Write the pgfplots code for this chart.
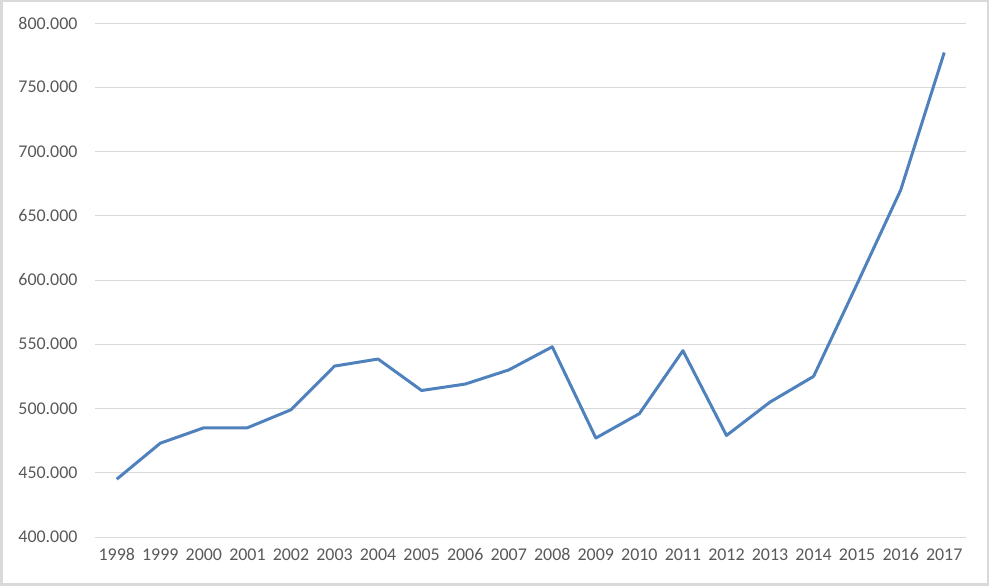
\documentclass[border=0pt]{standalone}
\usepackage{pgfplots}
\pgfplotsset{compat=1.18}
\usepackage{fontspec}
\setmainfont{Carlito}
\definecolor{txt}{RGB}{89,89,89}
\definecolor{grid}{RGB}{217,217,217}
\definecolor{line}{RGB}{79,129,189}
\begin{document}
\begin{tikzpicture}[x=1bp,y=1bp]
\useasboundingbox (0,0) rectangle (989,586);
\draw[grid,line width=2.5bp] (1.25,1.25) rectangle (987.75,584.75);
\begin{axis}[
  at={(95bp,49bp)}, anchor=south west,
  scale only axis, width=871bp, height=514bp,
  xmin=-0.5, xmax=19.5, ymin=400, ymax=800,
  xtick={0,...,19},
  xticklabels={1998,1999,2000,2001,2002,2003,2004,2005,2006,2007,2008,2009,2010,2011,2012,2013,2014,2015,2016,2017},
  ytick={400,450,...,800},
  yticklabels={400.000,450.000,500.000,550.000,600.000,650.000,700.000,750.000,800.000},
  ymajorgrids, xmajorgrids=false,
  y grid style={grid,line width=0.75bp},
  axis x line*=bottom, axis y line*=left,
  x axis line style={grid,line width=0.75bp,-},
  y axis line style={draw=none},
  major tick length=0pt,
  tick style={draw=none},
  tick label style={font=\fontsize{18}{20}\selectfont, text=txt},
  yticklabel style={xshift=-14bp},
  xticklabel style={yshift=-8bp},
  clip=false,
]
\addplot[line, line width=3bp, line join=round, mark=none] coordinates {
(0,445) (1,473) (2,485) (3,485) (4,499) (5,533) (6,538.5) (7,514) (8,519) (9,530)
(10,548) (11,477) (12,496) (13,545) (14,479) (15,505) (16,525) (17,597) (18,670) (19,777)
};
\end{axis}
\end{tikzpicture}
\end{document}
